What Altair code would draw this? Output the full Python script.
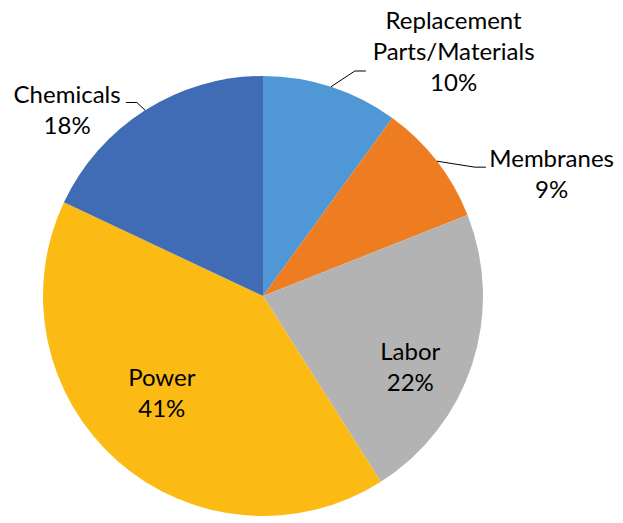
import math
import altair as alt
import pandas as pd

# ---- data ----
categories = ["Replacement\nParts/Materials", "Membranes", "Labor", "Power", "Chemicals"]
values = [10, 9, 22, 41, 18]
pct_labels = ["10%", "9%", "22%", "41%", "18%"]
colors = ["#5097D5", "#EE7D22", "#B3B3B3", "#FBBB14", "#3F6CB5"]

# ---- layout ----
W = H = 440
R = 220
# label placement (first line): (angle nudge from slice middle in degrees, radius px)
label_layout = [(16.8, 334), (12.6, 319), (3.2, 158), (9.2, 131), (-12.0, 280)]
# leaders: (elbow angle nudge deg, elbow radius, horizontal segment dx) or None
leader_layout = [(4.2, 243, 11), (6.5, 248, 11), None, None, (-0.7, 231, -11)]

total = float(sum(values))
order = list(range(len(values)))
pie_df = pd.DataFrame({"cat": categories, "value": values, "ord": order})

mids = []
cum = 0.0
for v in values:
    mids.append((cum + v / 2) / total * 2 * math.pi)
    cum += v

lab_rows = []
for i, (c, p) in enumerate(zip(categories, pct_labels)):
    nudge, r = label_layout[i]
    lab_rows.append({"text": c + "\n" + p, "theta": mids[i] + math.radians(nudge), "r": r})
lab_df = pd.DataFrame(lab_rows)

cx, cy = W / 2, H / 2
def pt(theta, r):
    return cx + r * math.sin(theta), cy - r * math.cos(theta)

line_rows = []
for i, ll in enumerate(leader_layout):
    if ll is None:
        continue
    dang, er, dx = ll
    x0, y0 = pt(mids[i], R)
    x1, y1 = pt(mids[i] + math.radians(dang), er)
    x2, y2 = x1 + dx, y1
    for k, (x, y) in enumerate([(x0, y0), (x1, y1), (x2, y2)]):
        line_rows.append({"g": i, "k": k, "x": x, "y": y})
line_df = pd.DataFrame(line_rows)

pie = alt.Chart(pie_df).mark_arc(radius=R).encode(
    theta=alt.Theta("value:Q", stack=True),
    order=alt.Order("ord:Q"),
    color=alt.Color("cat:N", scale=alt.Scale(domain=categories, range=colors), legend=None),
)

labels = alt.Chart(lab_df).mark_text(
    font="Lato", fontSize=24, color="#000000", lineBreak="\n", lineHeight=31,
    align="center", baseline="middle",
).encode(
    theta=alt.Theta("theta:Q", scale=None),
    radius=alt.Radius("r:Q", scale=None),
    text="text:N",
)

leaders = alt.Chart(line_df).mark_line(color="#000000", strokeWidth=1).encode(
    x=alt.X("x:Q", scale=None, axis=None),
    y=alt.Y("y:Q", scale=None, axis=None),
    detail="g:N",
    order="k:Q",
)

chart = alt.layer(pie, leaders, labels).properties(
    width=W, height=H,
    autosize=alt.AutoSizeParams(type="none"),
    padding={"left": 35, "top": 68, "right": 132, "bottom": 0},
).configure(background="white").configure_view(stroke=None, strokeWidth=0)

chart.save("out.html", embed_options={"renderer": "svg", "actions": False})
